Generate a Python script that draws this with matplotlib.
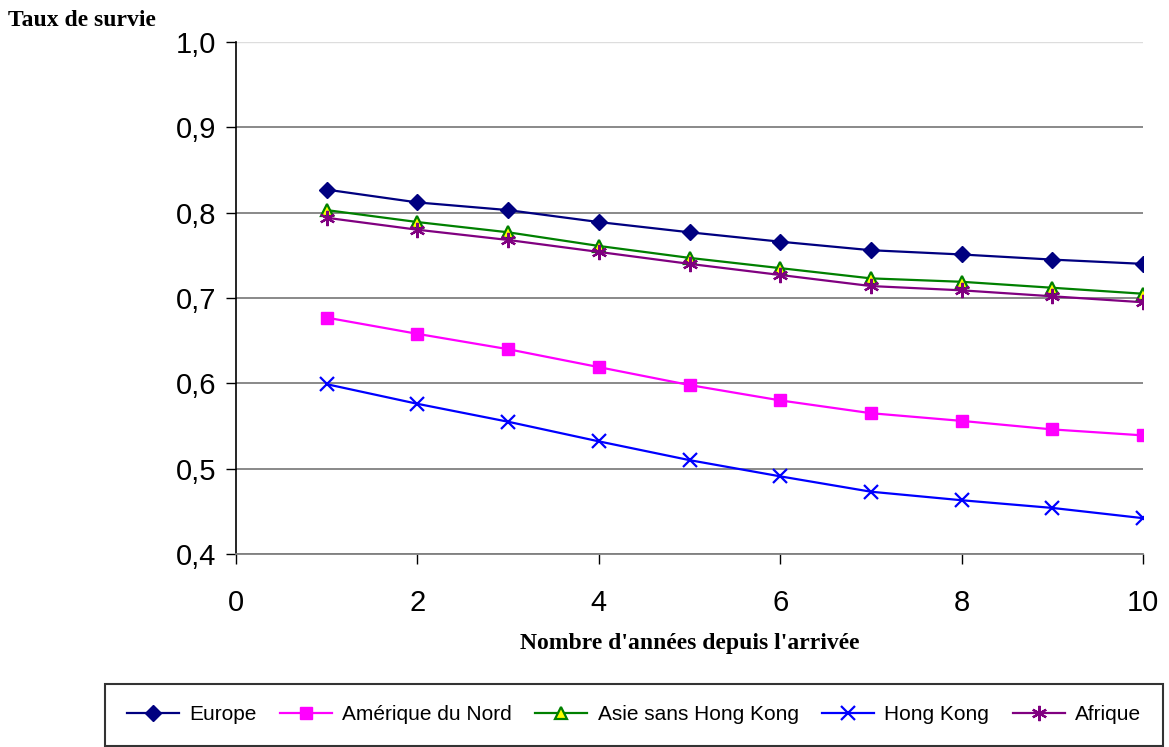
import matplotlib
matplotlib.use("Agg")
import matplotlib.pyplot as plt
from matplotlib.ticker import FuncFormatter

years = [1, 2, 3, 4, 5, 6, 7, 8, 9, 10]
europe = [0.827, 0.812, 0.803, 0.789, 0.777, 0.766, 0.756, 0.751, 0.745, 0.740]
amerique = [0.677, 0.658, 0.640, 0.619, 0.598, 0.580, 0.565, 0.556, 0.546, 0.539]
asie = [0.803, 0.789, 0.777, 0.761, 0.747, 0.735, 0.723, 0.719, 0.712, 0.705]
hongkong = [0.599, 0.576, 0.555, 0.532, 0.510, 0.491, 0.473, 0.463, 0.454, 0.442]
afrique = [0.794, 0.780, 0.768, 0.754, 0.740, 0.727, 0.714, 0.709, 0.702, 0.695]

SANS = "Liberation Sans"
SERIF = "Liberation Serif"

fig = plt.figure(figsize=(11.69, 7.47), dpi=100)
ax = fig.add_axes([236 / 1169, 1 - 554 / 747, (1143 - 236) / 1169, (554 - 42) / 747])

ax.plot(years, europe, color="#000080", lw=1.6, marker="D", ms=8, label="Europe")
ax.plot(years, amerique, color="#ff00ff", lw=1.6, marker="s", ms=8, label="Amérique du Nord")
ax.plot(years, asie, color="#008000", lw=1.6, marker="^", ms=9, mfc="#ffff00",
        mec="#008000", mew=1.6, label="Asie sans Hong Kong")
ax.plot(years, hongkong, color="#0000ff", lw=1.6, marker="x", ms=10, mew=1.6, label="Hong Kong")
ax.plot(years, afrique, color="#800080", lw=1.6, marker=(6, 2, 0), ms=11, mew=1.6, label="Afrique")

ax.set_xlim(0, 10)
ax.set_ylim(0.4, 1.0)
ax.set_xticks([0, 2, 4, 6, 8, 10])
ax.set_yticks([0.4, 0.5, 0.6, 0.7, 0.8, 0.9, 1.0])
ax.yaxis.set_major_formatter(FuncFormatter(lambda v, p: f"{v:.1f}".replace(".", ",")))

ax.grid(axis="y", color="#808080", lw=1.3)
ax.get_ygridlines()[-1].set_color("#dddddd")
ax.get_ygridlines()[-1].set_linewidth(1.0)
ax.set_axisbelow(True)

for s in ["top", "right"]:
    ax.spines[s].set_visible(False)
ax.spines["left"].set_color("black")
ax.spines["left"].set_linewidth(1.2)
ax.spines["bottom"].set_color("#808080")
ax.spines["bottom"].set_linewidth(1.3)

ax.tick_params(axis="both", direction="out", length=7, width=1, color="black",
               labelsize=21)
ax.tick_params(axis="y", pad=7)
ax.tick_params(axis="x", pad=18)
for lab in ax.get_xticklabels() + ax.get_yticklabels():
    lab.set_fontfamily(SANS)

fig.text(8 / 1169, 1 - 20 / 747, "Taux de survie", fontfamily=SERIF, fontweight="bold",
         fontsize=17, ha="left", va="center")
ax.set_xlabel("Nombre d'années depuis l'arrivée", fontfamily=SERIF, fontweight="bold",
              fontsize=17, labelpad=12)

leg = fig.legend(loc="center", ncol=5, mode="expand",
                 bbox_to_anchor=(105 / 1169, 1 - 747 / 747, (1163 - 105) / 1169, (747 - 683) / 747),
                 prop={"family": SANS, "size": 15}, frameon=True, fancybox=False,
                 handlelength=2.5, handletextpad=0.5, borderaxespad=0, columnspacing=0.8,
                 borderpad=1.05)
leg.get_frame().set_edgecolor("black")
leg.get_frame().set_linewidth(1.5)

fig.savefig("out.png", dpi=100)
